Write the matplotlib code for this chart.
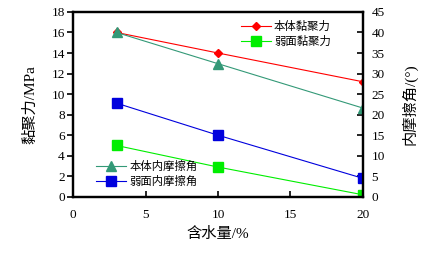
import matplotlib.pyplot as plt

plt.rcParams['font.family'] = ['Liberation Serif', 'Noto Sans CJK SC']
plt.rcParams['font.size'] = 9.5

# data
water = [3, 10, 20]
coh_body = [16, 14, 11.2]       # MPa
coh_weak = [5, 2.9, 0.2]        # MPa
fric_body = [40, 32.4, 21.6]    # deg
fric_weak = [22.8, 15, 4.5]     # deg

fig = plt.figure(figsize=(4.27, 2.59), dpi=100)
ax = fig.add_axes([0.171, 0.24, 0.679, 0.714])
ax2 = ax.twinx()

l1, = ax.plot(water, coh_body, color='red', marker='D', ms=4.5, lw=0.8, label='本体黏聚力')
l2, = ax.plot(water, coh_weak, color='#00ee00', marker='s', ms=7, lw=0.8, label='弱面黏聚力')
l3, = ax2.plot(water, fric_body, color='#339977', marker='^', ms=6.5, lw=0.8, label='本体内摩擦角')
l4, = ax2.plot(water, fric_weak, color='#0000dd', marker='s', ms=7, lw=0.8, label='弱面内摩擦角')

ax.set_xlim(0, 20)
ax.set_ylim(0, 18)
ax2.set_ylim(0, 45)
ax.set_xticks([0, 5, 10, 15, 20])
ax.set_yticks(range(0, 19, 2))
ax2.set_yticks(range(0, 46, 5))

for a in (ax, ax2):
    for s in a.spines.values():
        s.set_linewidth(1.6)
ax.tick_params(axis='x', direction='in', length=4, width=1.2, pad=9)
ax.tick_params(axis='y', direction='out', length=4, width=1.2, pad=2)
ax2.tick_params(axis='y', direction='in', length=4, width=1.2, pad=6)

ax.set_xlabel('含水量/%', fontsize=11, labelpad=4)
ax.set_ylabel('黏聚力/MPa', fontsize=11, labelpad=10)
ax2.set_ylabel('内摩擦角/(°)', fontsize=11, rotation=90, labelpad=12)

leg_kw = dict(frameon=False, fontsize=8.2, handlelength=2.6, handletextpad=0.3,
              borderaxespad=0, labelspacing=0.35)
ax.legend(handles=[l1, l2], loc='upper right', bbox_to_anchor=(0.905, 0.975), **leg_kw)
ax2.legend(handles=[l3, l4], loc='lower left', bbox_to_anchor=(0.065, 0.03), **leg_kw)

fig.savefig('out.png', dpi=100)
